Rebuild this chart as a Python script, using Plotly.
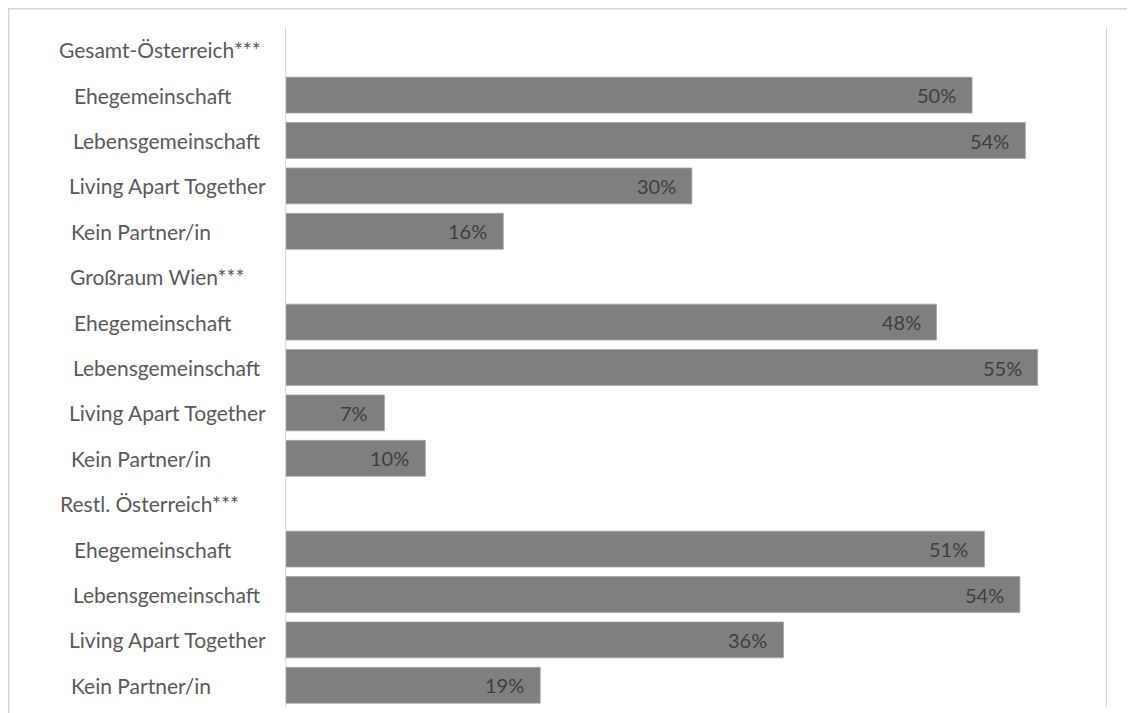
import plotly.graph_objects as go

# ---- data ----
groups = ["Gesamt-Österreich***", "Großraum Wien***", "Restl. Österreich***"]
subcats = ["Ehegemeinschaft", "Lebensgemeinschaft", "Living Apart Together", "Kein Partner/in"]
gesamt = [50.2, 54.1, 29.7, 15.9]
wien = [47.6, 55.0, 7.2, 10.2]
restl = [51.1, 53.7, 36.4, 18.6]
gesamt_labels = ["50%", "54%", "30%", "16%"]
wien_labels = ["48%", "55%", "7%", "10%"]
restl_labels = ["51%", "54%", "36%", "19%"]

# ---- layout constants (page has an 8px body margin) ----
OFF = 8
W, H = 1135 - OFF, 713 - OFF
L, R, T, B = 286 - OFF, 29, 27 - OFF, 5
PW, PH = W - L - R, H - T - B
FONT = "Lato"
label_left_px = {
    "Gesamt-Österreich***": 57, "Großraum Wien***": 68, "Restl. Österreich***": 58,
    "Ehegemeinschaft": 72, "Lebensgemeinschaft": 71, "Living Apart Together": 67,
    "Kein Partner/in": 69,
}

series = [gesamt, wien, restl]
series_labels = [gesamt_labels, wien_labels, restl_labels]

row_names, row_vals, row_texts = [], [], []
for g, vals, labs in zip(groups, series, series_labels):
    row_names.append(g)
    row_vals.append(None)
    row_texts.append("")
    for c, v, t in zip(subcats, vals, labs):
        row_names.append(c)
        row_vals.append(v)
        row_texts.append(t)
rows = list(range(len(row_names)))


def px_x(p):
    return (p - OFF - L) / PW


def px_y(p):
    return (H - B - (p - OFF)) / PH


fig = go.Figure()
fig.add_trace(go.Bar(
    x=row_vals, y=rows, orientation="h",
    marker=dict(color="#7f7f7f", line=dict(color="#a6a6a6", width=0.8)),
    width=0.79, hoverinfo="skip",
))

annotations = []
for r, name in zip(rows, row_names):
    annotations.append(dict(
        x=px_x(label_left_px[name]), xref="paper", xanchor="left",
        y=r, yref="y", text=name, showarrow=False,
        font=dict(family=FONT, size=21, color="#595959"),
    ))
for r, v, t in zip(rows, row_vals, row_texts):
    if v is None:
        continue
    annotations.append(dict(
        x=v, xref="x", xanchor="right", xshift=-14,
        y=r, yref="y", text=t, showarrow=False,
        font=dict(family=FONT, size=20, color="#404040"),
    ))

fig.update_layout(
    width=W, height=H,
    margin=dict(l=L, r=R, t=T, b=B, pad=0),
    paper_bgcolor="white", plot_bgcolor="white",
    showlegend=False,
    font=dict(family=FONT),
    xaxis=dict(range=[0, 60], showgrid=False, zeroline=False, showticklabels=False,
               showline=False, ticks=""),
    yaxis=dict(range=[len(rows) - 0.5, -0.5], showgrid=False, zeroline=False,
               showticklabels=False, ticks="", showline=True, mirror=True,
               linecolor="#d9d9d9", linewidth=1.3),
    annotations=annotations,
    shapes=[dict(type="rect", xref="paper", yref="paper",
                 x0=px_x(8.7), x1=px_x(1160), y0=px_y(740), y1=px_y(8.7),
                 line=dict(color="#d4d4d4", width=1.5), fillcolor="rgba(0,0,0,0)",
                 layer="below")],
)

fig.write_html("out.html")
